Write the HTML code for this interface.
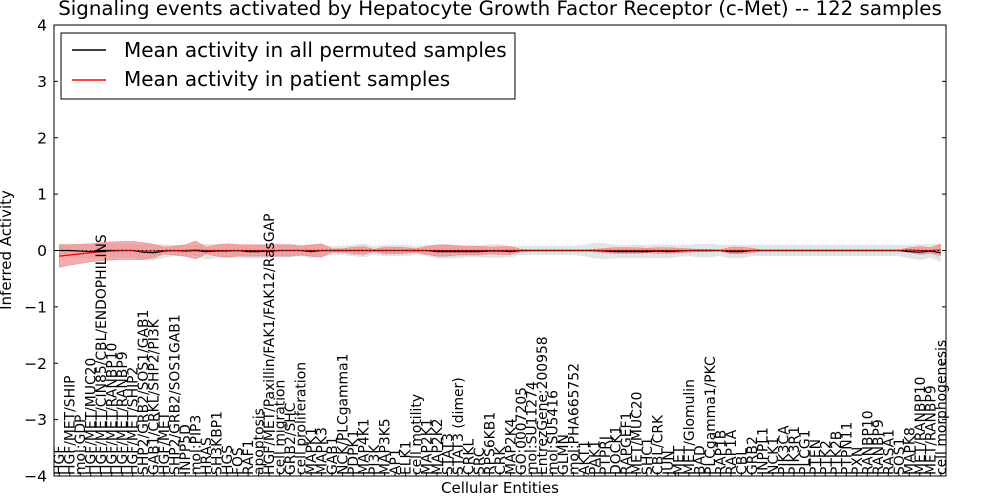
<!DOCTYPE html>
<html><head><meta charset="utf-8"><style>
html,body{margin:0;padding:0;background:#fff;}
svg{display:block;font-family:"DejaVu Sans","Liberation Sans",sans-serif;}
</style></head><body>
<svg id="chart" width="1000" height="500">
<rect width="1000" height="500" fill="#fff"/>
<text x="500" y="15" text-anchor="middle" font-size="19.8">Signaling events activated by Hepatocyte Growth Factor Receptor (c-Met) -- 122 samples</text>
<g id="plot"></g>
<text x="500" y="493" text-anchor="middle" font-size="15">Cellular Entities</text>
<text transform="translate(11,250) rotate(-90)" text-anchor="middle" font-size="15">Inferred Activity</text>
<g>
<rect x="61" y="33" width="454" height="66" fill="#fff" stroke="#000"/>
<line x1="72" y1="50" x2="106" y2="50" stroke="#000" stroke-width="1.5"/>
<text x="124" y="57" font-size="20">Mean activity in all permuted samples</text>
<line x1="72" y1="80" x2="106" y2="80" stroke="#f00" stroke-width="1.5"/>
<text x="124" y="86" font-size="20">Mean activity in patient samples</text>
</g>
</svg>
<script>
const categories=["HGF","HGF/MET/SHIP","mol:GDP","HGF/MET/MUC20","HGF/MET/CIN85/CBL/ENDOPHILINS","HGF/MET/RANBP10","HGF/MET/RANBP9","HGF/MET/SHIP2","SHP2/GRB2/SOS1/GAB1","GAB1/CRKL/SHP2/PI3K","HGF/MET","SHP2/GRB2/SOS1GAB1","INPP5D","mol:PIP3","HRAS","SH3KBP1","HGS","FOS","RAF1","apoptosis","HGF/MET/Paxillin/FAK1/FAK12/RasGAP","cell migration","GRB2/SHC","cell proliferation","MAPK1","MAPK3","GAB1","NCK/PLCgamma1","PDPK1","MAP4K1","PI3K","MAP3K5","AP1","ELK1","cell motility","MAP2K1","MAP2K2","STAT3","STAT3 (dimer)","CRKL","SRC","RPS6KB1","CRK","MAP2K4","GO:0007205","mol:SU11274","EntrezGene:200958","mol:SU5416","GLMN","mol:PHA665752","AKT1","PAK1","PTPRJ","DOCK1","RAPGEF1","MET/MUC20","SHC1","CBL/CRK","JUN","MET","MET/Glomulin","BAD","PLCgamma1/PKC","RAP1B","RAP1A","CBL","GRB2","INPPL1","NCK1","PIK3CA","PIK3R1","PLCG1","PTEN","PTK2","PTK2B","PTPN11","PXN","RANBP10","RANBP9","RASA1","SOS1","MAPK8","MET/RANBP10","MET/RANBP9","cell morphogenesis"];
const permMean=[0,0,-0.01,-0.02,0,0,0,0,-0.03,-0.04,-0.01,0,-0.01,0,-0.02,-0.01,-0.01,0,-0.02,-0.02,-0.01,0,0,0,-0.02,0,0,0,0,0,0,0,0,0,0,0,-0.02,-0.02,-0.02,-0.02,-0.02,-0.01,-0.01,-0.02,0,0,0,0,0,0,0,0,-0.01,-0.02,-0.02,-0.02,-0.02,-0.01,-0.02,-0.01,0,0,0,0,-0.02,-0.02,0,0,0,0,0,0,0,0,0,0,0,0,0,0,0,-0.02,-0.03,-0.01,-0.04];
const patMean=[-0.1,-0.08,-0.06,-0.04,-0.02,-0.01,0,0,-0.01,-0.01,0,0,0,0.01,0,0,0,0,0,0,0,0,0,0,0,0,0,0,0,0,0,0,0,0,0,0,0,0,0,0,0,0,0,0,0,0,0,0,0,0,0,0,0,0,0,0,0,0,0,0,0,0,0,0,0,0,0,0,0,0,0,0,0,0,0,0,0,0,0,0,0,0.01,0,0,0.01];
const patWidth=[0.2,0.18,0.17,0.16,0.16,0.16,0.16,0.16,0.15,0.12,0.06,0.08,0.1,0.16,0.06,0.1,0.12,0.1,0.1,0.1,0.1,0.1,0.1,0.08,0.1,0.12,0.03,0.03,0.06,0.07,0.02,0.06,0.06,0.05,0.03,0.07,0.1,0.1,0.08,0.08,0.08,0.06,0.07,0.07,0.02,0.01,0.01,0.01,0.01,0.01,0.01,0.02,0.04,0.05,0.05,0.05,0.04,0.05,0.05,0.04,0.03,0.02,0.02,0.01,0.06,0.06,0.04,0.01,0.01,0.01,0.01,0.01,0.01,0.01,0.01,0.01,0.01,0.01,0.01,0.01,0.01,0.04,0.07,0.05,0.1];
const permWidth=[0.12,0.12,0.12,0.12,0.12,0.12,0.12,0.12,0.14,0.14,0.12,0.1,0.1,0.1,0.14,0.12,0.12,0.12,0.12,0.12,0.12,0.12,0.12,0.1,0.12,0.1,0.08,0.08,0.1,0.12,0.08,0.1,0.1,0.1,0.08,0.1,0.12,0.12,0.12,0.1,0.1,0.12,0.12,0.1,0.08,0.08,0.08,0.08,0.08,0.08,0.1,0.14,0.14,0.12,0.12,0.12,0.12,0.12,0.12,0.1,0.1,0.12,0.12,0.1,0.12,0.12,0.1,0.1,0.1,0.1,0.1,0.1,0.1,0.1,0.1,0.1,0.1,0.1,0.1,0.1,0.1,0.12,0.14,0.12,0.16];
const yTicks=[-4,-3,-2,-1,0,1,2,3,4];

const L=54,R=946,T=25,B=476,NS="http://www.w3.org/2000/svg";
const n=categories.length;
const xs=i=>L+(i+0.5)*(R-L)/n;
const ys=v=>B-(v+4)/8*(B-T);
const g=document.getElementById('plot');
function mk(t,a){const e=document.createElementNS(NS,t);for(const k in a)e.setAttribute(k,a[k]);g.appendChild(e);return e;}
function band(mean,w){let up=[],dn=[];for(let i=0;i<n;i++){up.push(xs(i)+','+ys(mean[i]+w[i]));dn.unshift(xs(i)+','+ys(mean[i]-w[i]));}return up.concat(dn).join(' ');}
const pb=mk('polygon',{points:band(permMean,permWidth),fill:'#d8d8d8','fill-opacity':'0.7'});


const rb=mk('polygon',{points:band(patMean,patWidth),fill:'#f08080','fill-opacity':'0.65',stroke:'#f08080','stroke-width':'0.5'});


const pl=mk('polyline',{points:permMean.map((v,i)=>xs(i)+','+ys(v)).join(' '),fill:'none',stroke:'#000','stroke-width':'1.2'});


const rl=mk('polyline',{points:patMean.map((v,i)=>xs(i)+','+ys(v)).join(' '),fill:'none',stroke:'#f00','stroke-width':'1.2'});


const zl=mk('line',{x1:L,x2:R,y1:ys(0),y2:ys(0),stroke:'#000','stroke-width':'1','stroke-dasharray':'1,3'});


const fr=mk('rect',{x:L,y:T,width:R-L,height:B-T,fill:'none',stroke:'#000','stroke-width':'1'});


yTicks.forEach(v=>{
  const y=ys(v);
  mk('line',{x1:L,x2:L+4,y1:y,y2:y,stroke:'#000'});
  mk('line',{x1:R-4,x2:R,y1:y,y2:y,stroke:'#000'});
  const t=mk('text',{x:L-7,y:y+5.5,'text-anchor':'end','font-size':'15.5'});
  t.textContent=(v<0?'\u2212':'')+Math.abs(v);
  
  
});
categories.forEach((c,i)=>{
  const x=xs(i);
  mk('line',{x1:x,x2:x,y1:B,y2:B-4,stroke:'#000'});
  const t=mk('text',{transform:`translate(${x+5},${B-1}) rotate(-90)`,'font-size':'13.9'});
  t.textContent=c;
  
  
});
</script>
</body></html>
